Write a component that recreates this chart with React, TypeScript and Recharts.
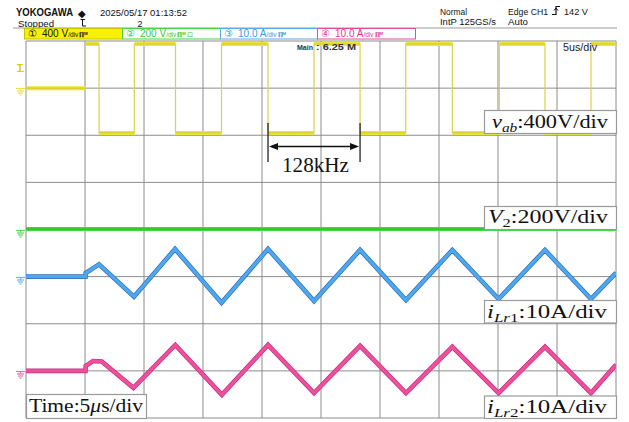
import React from 'react';
import { LineChart, Line, XAxis, YAxis, CartesianGrid } from 'recharts';

// ---- time axis (µs), 5 µs/div, 10 divisions
const xTicks = [0, 5, 10, 15, 20, 25, 30, 35, 40, 45, 50];
const yTicks = [0, 1, 2, 3, 4, 5, 6, 7, 8];

// ---- v_ab (V): segment start times and levels (square wave)
const vabStartsUs = [0, 5.04, 6.19, 9.18, 12.67, 16.57, 20.51, 24.41, 28.31, 32.18, 36.13, 40.11, 43.98, 47.88];
const vabLevelsV = [0, 375, -380, 375, -380, 375, -380, 375, -380, 375, -380, 375, -380, 375];

// ---- V2 (V)
const v2TimesUs = [0, 10, 20, 30, 40, 50];
const v2V = [2, 2, 2, 2, 2, 2];

// ---- i_Lr1 (A)
const iLr1TimesUs = [0, 5.04, 5.06, 6.19, 9.15, 12.63, 16.57, 20.51, 24.41, 28.31, 32.2, 36.13, 40.05, 43.98, 47.88, 50];
const iLr1A = [0, 0, 0.76, 2.6, -4.27, 5.86, -5.54, 5.86, -5.2, 5.65, -4.97, 5.65, -4.75, 5.65, -4.75, 0.8];

// ---- i_Lr2 (A)
const iLr2TimesUs = [0, 5.04, 5.06, 5.68, 6.42, 9.1, 12.65, 16.6, 20.51, 24.41, 28.31, 32.2, 36.13, 40.05, 43.98, 47.88, 50];
const iLr2A = [0, 0, 1.05, 2.1, 2.0, -3.6, 5.5, -5.1, 5.5, -4.7, 5.3, -4.7, 5.1, -4.7, 5.1, -4.7, 1.3];

// ---- channel settings (scale per division, vertical offset in divisions)
const CH1 = { scale: 400, offset: 7 };
const CH2 = { scale: 200, offset: 4 };
const CH3 = { scale: 10, offset: 3 };
const CH4 = { scale: 10, offset: 1 };
const TRIG_LEVEL_V = 142;
const T_END = 50;

const W = 629;
const H = 422;
const M = { top: 41, left: 26, right: 13, bottom: 4 };
const plotW = W - M.left - M.right;
const plotH = H - M.top - M.bottom;
const xPx = (t: number) => M.left + (t / T_END) * plotW;
const yPx = (d: number) => M.top + ((8 - d) / 8) * plotH;

const toDiv = (v: number, ch: { scale: number; offset: number }) => ch.offset + v / ch.scale;

const vabStep: { t: number; y: number | null }[] = [];
const vabPlateau: { t: number; y: number | null }[] = [];
vabStartsUs.forEach((s, i) => {
  const e = i + 1 < vabStartsUs.length ? vabStartsUs[i + 1] : T_END;
  const y = toDiv(vabLevelsV[i], CH1);
  vabStep.push({ t: s, y }, { t: e, y });
  vabPlateau.push({ t: s, y }, { t: e, y }, { t: e, y: null });
});
const v2Data = v2TimesUs.map((t, i) => ({ t, y: toDiv(v2V[i], CH2) }));
const i1Data = iLr1TimesUs.map((t, i) => ({ t, y: toDiv(iLr1A[i], CH3) }));
const i2Data = iLr2TimesUs.map((t, i) => ({ t, y: toDiv(iLr2A[i], CH4) }));

const serif = '"Liberation Serif", "DejaVu Serif", serif';
const sans = '"Liberation Sans Narrow", "Liberation Sans", Arial, sans-serif';

function Ground({ d, color }: { d: number; color: string }) {
  const y = Math.round(yPx(d)) + 0.5;
  return (
    <g stroke={color} strokeWidth={1.2} fill="none">
      <line x1={16} y1={y} x2={25} y2={y} />
      <line x1={20.5} y1={y} x2={20.5} y2={y + 2} />
      <line x1={17} y1={y + 2.5} x2={24} y2={y + 2.5} />
      <line x1={18} y1={y + 4.5} x2={23} y2={y + 4.5} />
      <line x1={19.5} y1={y + 6.5} x2={21.5} y2={y + 6.5} />
    </g>
  );
}

function ChBox({ x, w, fill, stroke, color, num, val, unit, extra }: any) {
  return (
    <g>
      <rect x={x + 0.5} y={28.5} width={w} height={10.5} fill={fill} stroke={stroke} strokeWidth={1} />
      <text x={x + 4} y={37.3} fontFamily={sans} fontSize={9.5} fill={color}>{num}</text>
      <text x={x + 18} y={37.4} fontFamily={sans} fontSize={10} fill={color}>
        {val} {unit}
        <tspan fontSize={6.5}>/div</tspan>
        <tspan fontSize={6.5} fontWeight="bold" dx={1}>ℿᴹ</tspan>
        {extra ? <tspan fontSize={7} dx={1}>{extra}</tspan> : null}
      </text>
    </g>
  );
}

function LabelBox({ x, y, w, h, children, tx, ty, tl }: any) {
  return (
    <g>
      <rect x={x + 0.5} y={y + 0.5} width={w} height={h} fill="#ffffff" stroke="#9a9a9a" strokeWidth={1.2} />
      <text x={tx} y={ty} fontFamily={serif} fontSize={19} fill="#111" textLength={tl} lengthAdjust="spacingAndGlyphs">
        {children}
      </text>
    </g>
  );
}

export default function App() {
  const arrowX1 = xPx(vabStartsUs[6]);
  const arrowX2 = xPx(vabStartsUs[8]);
  const arrowY = 146.5;
  const trigY = yPx(CH1.offset + TRIG_LEVEL_V / CH1.scale);
  return (
    <div style={{ position: 'absolute', left: 0, top: 0, width: W, height: H, background: '#fff' }}>
      <LineChart width={W} height={H} margin={M}>
        <CartesianGrid stroke="#8c8c8c" strokeWidth={1} />
        <XAxis type="number" dataKey="t" domain={[0, T_END]} ticks={xTicks} hide allowDataOverflow />
        <YAxis type="number" dataKey="y" domain={[0, 8]} ticks={yTicks} hide allowDataOverflow />
        <Line data={v2Data} dataKey="y" type="linear" dot={false} isAnimationActive={false} stroke="#3fdc3f" strokeWidth={4} />
        <Line data={v2Data} dataKey="y" type="linear" dot={false} isAnimationActive={false} stroke="#1f8f1f" strokeWidth={0.8} strokeOpacity={0.7} />
        <Line data={i1Data} dataKey="y" type="linear" dot={false} isAnimationActive={false} stroke="#2f70b8" strokeWidth={4.6} />
        <Line data={i1Data} dataKey="y" type="linear" dot={false} isAnimationActive={false} stroke="#4ea8ef" strokeWidth={3.2} />
        <Line data={i2Data} dataKey="y" type="linear" dot={false} isAnimationActive={false} stroke="#c52f79" strokeWidth={4.6} />
        <Line data={i2Data} dataKey="y" type="linear" dot={false} isAnimationActive={false} stroke="#ef4f9d" strokeWidth={3.2} />
        <Line data={vabStep} dataKey="y" type="linear" dot={false} isAnimationActive={false} stroke="#d9d24a" strokeWidth={1.2} />
        <Line data={vabPlateau} dataKey="y" type="linear" dot={false} isAnimationActive={false} stroke="#ece63c" strokeWidth={4} connectNulls={false} />
        <Line data={vabPlateau} dataKey="y" type="linear" dot={false} isAnimationActive={false} stroke="#a89c2a" strokeWidth={0.7} strokeOpacity={0.6} connectNulls={false} />
      </LineChart>
      <svg width={W} height={H} style={{ position: 'absolute', left: 0, top: 0, pointerEvents: 'none' }}>
        {/* header */}
        <text x={16} y={16} fontFamily={sans} fontSize={10} fontWeight="bold" fill="#111" textLength={57} lengthAdjust="spacingAndGlyphs">YOKOGAWA</text>
        <text x={81.5} y={16.5} fontFamily={sans} fontSize={10} fill="#111" textAnchor="middle">◆</text>
        <text x={100} y={16} fontFamily={sans} fontSize={9.5} fill="#111" textLength={87} lengthAdjust="spacingAndGlyphs">2025/05/17 01:13:52</text>
        <text x={18} y={26.5} fontFamily={sans} fontSize={9} fill="#111" textLength={36} lengthAdjust="spacingAndGlyphs">Stopped</text>
        <path d="M80.5 19.5 H85 M82.5 19.5 V26 M82.5 26 H86" stroke="#111" strokeWidth={1} fill="none" />
        <text x={140} y={26.5} fontFamily={sans} fontSize={9} fill="#111" textAnchor="middle">2</text>
        <text x={440} y={15} fontFamily={sans} fontSize={8.5} fill="#111" textLength={27} lengthAdjust="spacingAndGlyphs">Normal</text>
        <text x={440} y={25} fontFamily={sans} fontSize={8.5} fill="#111" textLength={56} lengthAdjust="spacingAndGlyphs">IntP 125GS/s</text>
        <text x={508} y={15} fontFamily={sans} fontSize={8.5} fill="#111" textLength={40} lengthAdjust="spacingAndGlyphs">Edge CH1</text>
        <path d="M552 14.5 H556 V6.5 H560" stroke="#111" strokeWidth={1.2} fill="none" />
        <path d="M554 10.5 L556 8 L558 10.5" stroke="#111" strokeWidth={1} fill="none" />
        <text x={564} y={15} fontFamily={sans} fontSize={8.5} fill="#111" textLength={24} lengthAdjust="spacingAndGlyphs">142 V</text>
        <text x={508} y={25} fontFamily={sans} fontSize={8.5} fill="#111" textLength={20} lengthAdjust="spacingAndGlyphs">Auto</text>
        <line x1={13} y1={28} x2={617} y2={28} stroke="#9a9a9a" strokeWidth={1} />
        {/* channel bars */}
        <ChBox x={24} w={98} fill="#f6f200" stroke="#c8c400" color="#111" num="①" val="400" unit="V" />
        <ChBox x={122} w={98} fill="#ffffff" stroke="#45d545" color="#35c835" num="②" val="200" unit="V" extra="⊡" />
        <ChBox x={220} w={97} fill="#ffffff" stroke="#5aa8ee" color="#3d98e8" num="③" val="10.0" unit="A" />
        <ChBox x={317} w={98} fill="#ffffff" stroke="#e24c9c" color="#e0388f" num="④" val="10.0" unit="A" />
        {/* in-grid texts */}
        <text x={297} y={50} fontFamily={sans} fontSize={8} fontWeight="bold" fill="#333" textLength={16} lengthAdjust="spacingAndGlyphs">Main</text>
        <text x={316} y={50} fontFamily={sans} fontSize={9} fontWeight="bold" fill="#333" textLength={40} lengthAdjust="spacingAndGlyphs">: 6.25 M</text>
        <text x={563} y={51} fontFamily={sans} fontSize={10} fill="#222" textLength={34} lengthAdjust="spacingAndGlyphs">5us/div</text>
        {/* markers on the left */}
        <text x={17} y={72} fontFamily={sans} fontSize={10} fontWeight="bold" fill="#d8d000">T</text>
        <line x1={17} y1={trigY} x2={24} y2={trigY} stroke="#d8d000" strokeWidth={1} />
        <Ground d={CH1.offset} color="#e8e050" />
        <Ground d={CH2.offset} color="#5ad85a" />
        <Ground d={CH3.offset} color="#6ab4f0" />
        <Ground d={CH4.offset} color="#ef6aaa" />
        {/* period annotation */}
        <line x1={arrowX1} y1={123} x2={arrowX1} y2={162} stroke="#222" strokeWidth={1.3} />
        <line x1={arrowX2} y1={123} x2={arrowX2} y2={162} stroke="#222" strokeWidth={1.3} />
        <line x1={arrowX1 + 4} y1={arrowY} x2={arrowX2 - 4} y2={arrowY} stroke="#111" strokeWidth={1.3} />
        <path d={`M${arrowX1 + 1} ${arrowY} L${arrowX1 + 10} ${arrowY - 3.5} L${arrowX1 + 10} ${arrowY + 3.5} Z`} fill="#111" />
        <path d={`M${arrowX2 - 1} ${arrowY} L${arrowX2 - 10} ${arrowY - 3.5} L${arrowX2 - 10} ${arrowY + 3.5} Z`} fill="#111" />
        <text x={282} y={171.5} fontFamily={serif} fontSize={20} fill="#111" textLength={67} lengthAdjust="spacingAndGlyphs">128kHz</text>
        {/* label boxes */}
        <LabelBox x={484} y={110} w={132} h={23} tx={492} ty={127.5} tl={116}>
          <tspan fontStyle="italic">v</tspan>
          <tspan fontStyle="italic" fontSize={13} dy={4}>ab</tspan>
          <tspan dy={-4}>:400V/div</tspan>
        </LabelBox>
        <LabelBox x={484} y={206} w={132} h={23} tx={488} ty={223} tl={120}>
          <tspan fontStyle="italic">V</tspan>
          <tspan fontSize={13} dy={4}>2</tspan>
          <tspan dy={-4}>:200V/div</tspan>
        </LabelBox>
        <LabelBox x={484} y={300} w={132} h={22.5} tx={487} ty={317.5} tl={120}>
          <tspan fontStyle="italic">i</tspan>
          <tspan fontStyle="italic" fontSize={13} dy={4}>Lr</tspan>
          <tspan fontSize={13}>1</tspan>
          <tspan dy={-4}>:10A/div</tspan>
        </LabelBox>
        <LabelBox x={484} y={395.5} w={132} h={22.5} tx={487} ty={412.5} tl={120}>
          <tspan fontStyle="italic">i</tspan>
          <tspan fontStyle="italic" fontSize={13} dy={4}>Lr</tspan>
          <tspan fontSize={13}>2</tspan>
          <tspan dy={-4}>:10A/div</tspan>
        </LabelBox>
        <LabelBox x={26} y={394} w={120} h={24} tx={29} ty={411.5} tl={114}>
          <tspan>Time:5</tspan>
          <tspan fontStyle="italic">μ</tspan>
          <tspan>s/div</tspan>
        </LabelBox>
      </svg>
    </div>
  );
}
